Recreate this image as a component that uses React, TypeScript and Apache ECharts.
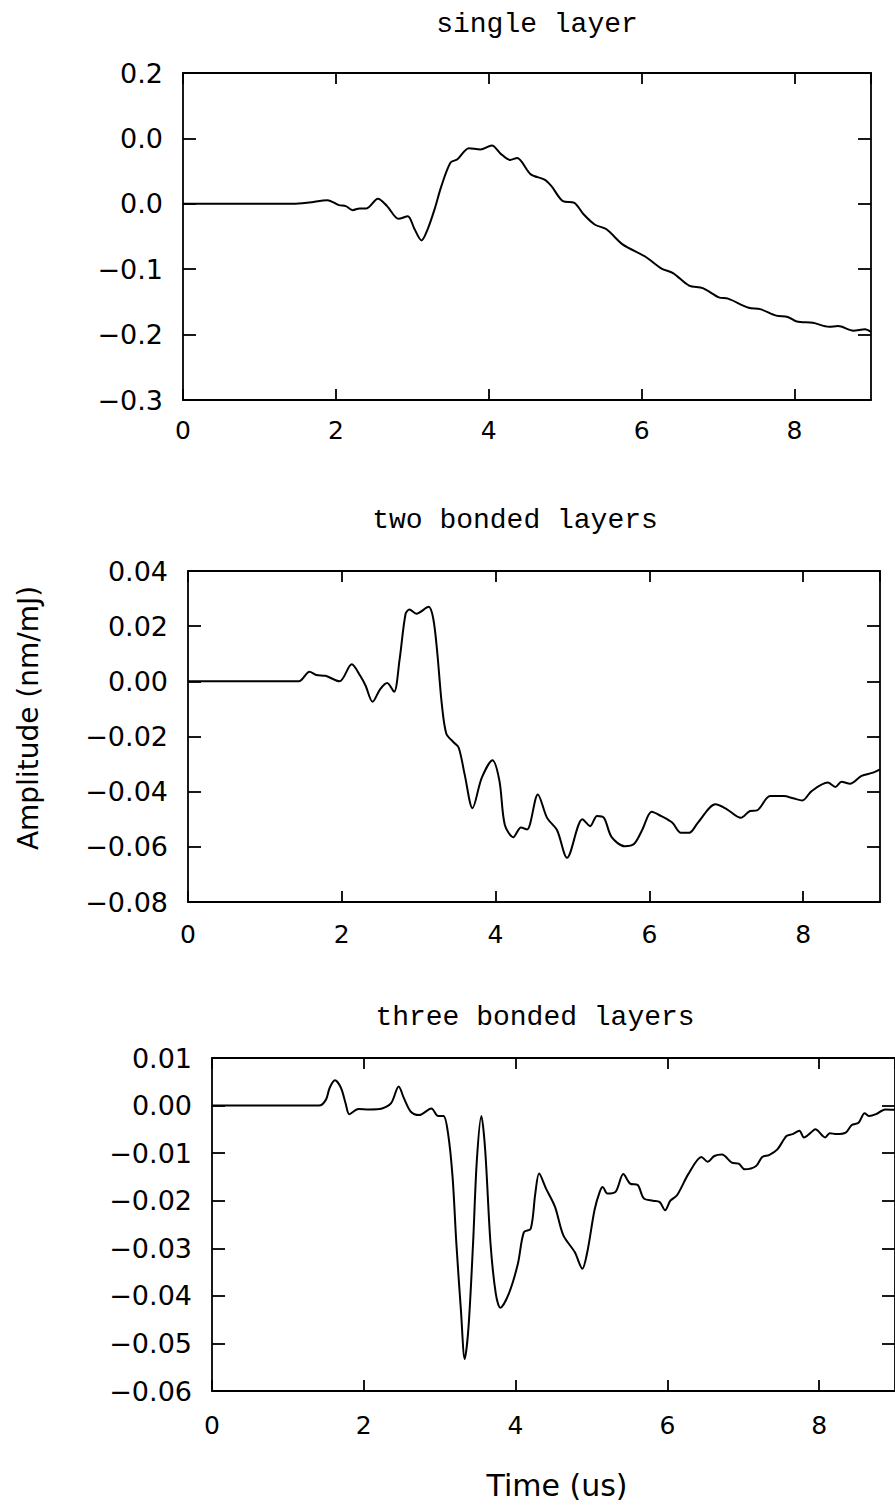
import React, { useEffect, useRef } from "react";
import * as echarts from "echarts";

const titles = ["single layer", "two bonded layers", "three bonded layers"];
const xTicks = [0, 2, 4, 6, 8];
const xLabelText = ["0", "2", "4", "6", "8"];
const xLabelName = "Time (us)";
const yName = "Amplitude (nm/mJ)";

const yTicks1 = [-0.3, -0.2, -0.1, 0, 0.1, 0.2];
const yLabels1 = ["−0.3", "−0.2", "−0.1", "0.0", "0.0", "0.2"];
const yTicks2 = [-0.08, -0.06, -0.04, -0.02, 0, 0.02, 0.04];
const yLabels2 = ["−0.08", "−0.06", "−0.04", "−0.02", "0.00", "0.02", "0.04"];
const yTicks3 = [-0.06, -0.05, -0.04, -0.03, -0.02, -0.01, 0, 0.01];
const yLabels3 = ["−0.06", "−0.05", "−0.04", "−0.03", "−0.02", "−0.01", "0.00", "0.01"];

const t1 = [0, 1.44, 1.65, 1.89, 2.04, 2.13, 2.22, 2.31, 2.4, 2.55, 2.67, 2.82, 2.94, 3.03, 3.12, 3.2, 3.29, 3.38, 3.5, 3.59, 3.74, 3.89, 4.04, 4.16, 4.28, 4.37, 4.55, 4.73, 4.82, 4.97, 5.12, 5.24, 5.39, 5.54, 5.75, 6.05, 6.26, 6.41, 6.62, 6.8, 7.01, 7.13, 7.4, 7.55, 7.76, 7.91, 8.03, 8.24, 8.45, 8.57, 8.77, 8.92, 9.0];
const v1 = [0, 0, 0.002, 0.0056, -0.002, -0.0036, -0.0097, -0.007, -0.007, 0.0077, -0.0036, -0.023, -0.019, -0.039, -0.056, -0.039, -0.0087, 0.027, 0.063, 0.068, 0.085, 0.083, 0.089, 0.076, 0.067, 0.07, 0.045, 0.037, 0.027, 0.004, 0.0015, -0.016, -0.032, -0.039, -0.062, -0.081, -0.099, -0.106, -0.125, -0.129, -0.143, -0.145, -0.159, -0.161, -0.171, -0.173, -0.18, -0.182, -0.188, -0.187, -0.194, -0.192, -0.196];

const t2 = [0, 1.44, 1.58, 1.67, 1.79, 1.97, 2.13, 2.24, 2.31, 2.4, 2.5, 2.59, 2.68, 2.75, 2.83, 2.88, 2.97, 3.13, 3.19, 3.24, 3.3, 3.36, 3.45, 3.52, 3.6, 3.7, 3.82, 3.96, 4.05, 4.12, 4.23, 4.33, 4.41, 4.55, 4.67, 4.8, 4.93, 5.13, 5.23, 5.32, 5.41, 5.51, 5.68, 5.8, 5.91, 6.03, 6.15, 6.3, 6.41, 6.52, 6.63, 6.86, 7.01, 7.19, 7.31, 7.4, 7.57, 7.75, 7.87, 7.99, 8.11, 8.32, 8.42, 8.5, 8.61, 8.76, 8.91, 9.0];
const v2 = [0, 0, 0.0035, 0.0023, 0.002, 0, 0.0062, 0.002, -0.0016, -0.0074, -0.0028, -0.0006, -0.0038, 0.0075, 0.0245, 0.026, 0.0245, 0.027, 0.0227, 0.011, -0.008, -0.019, -0.022, -0.024, -0.034, -0.046, -0.035, -0.0286, -0.036, -0.052, -0.0565, -0.053, -0.0537, -0.041, -0.0495, -0.054, -0.064, -0.05, -0.0525, -0.0488, -0.0495, -0.0565, -0.0598, -0.059, -0.0537, -0.0473, -0.0488, -0.0513, -0.0549, -0.0549, -0.0513, -0.0446, -0.0464, -0.0495, -0.047, -0.0468, -0.0416, -0.0416, -0.0424, -0.0432, -0.0398, -0.0367, -0.0383, -0.0364, -0.0371, -0.0343, -0.0331, -0.0319];

const t3 = [0, 1.41, 1.5, 1.55, 1.62, 1.7, 1.76, 1.81, 1.93, 2.07, 2.24, 2.36, 2.46, 2.53, 2.62, 2.73, 2.89, 2.98, 3.05, 3.11, 3.17, 3.22, 3.28, 3.33, 3.38, 3.44, 3.49, 3.55, 3.6, 3.67, 3.74, 3.8, 3.91, 4.03, 4.11, 4.2, 4.26, 4.31, 4.4, 4.52, 4.63, 4.78, 4.88, 4.95, 5.04, 5.11, 5.15, 5.21, 5.32, 5.42, 5.51, 5.61, 5.69, 5.81, 5.9, 5.97, 6.04, 6.13, 6.28, 6.45, 6.53, 6.62, 6.72, 6.85, 6.94, 7.02, 7.17, 7.25, 7.34, 7.45, 7.57, 7.65, 7.74, 7.8, 7.89, 7.95, 8.08, 8.14, 8.23, 8.35, 8.43, 8.52, 8.6, 8.66, 8.75, 8.87, 9.0];
const v3 = [0, 0, 0.0012, 0.0037, 0.0053, 0.0037, 0.0005, -0.0018, -0.0007, -0.0008, -0.0006, 0.0005, 0.004, 0.0015, -0.0013, -0.002, -0.0006, -0.0022, -0.0022, -0.0058, -0.015, -0.029, -0.043, -0.0533, -0.0466, -0.029, -0.0115, -0.0022, -0.0094, -0.029, -0.0396, -0.0425, -0.0396, -0.0333, -0.0266, -0.0259, -0.0185, -0.0143, -0.0174, -0.0213, -0.0273, -0.0308, -0.0343, -0.0304, -0.022, -0.0181, -0.0171, -0.0185, -0.0181, -0.0144, -0.0164, -0.0167, -0.0195, -0.02, -0.0203, -0.022, -0.02, -0.0188, -0.0143, -0.0108, -0.0118, -0.0106, -0.0103, -0.012, -0.0122, -0.0134, -0.0127, -0.0108, -0.0104, -0.0092, -0.0064, -0.006, -0.0053, -0.0067, -0.0057, -0.005, -0.0067, -0.0058, -0.006, -0.0057, -0.0041, -0.0036, -0.0016, -0.0022, -0.0018, -0.0008, -0.0009];

const zip = (a: number[], b: number[]) => {
  const n = Math.min(a.length, b.length);
  const out: number[][] = [];
  for (let i = 0; i < n; i++) out.push([a[i], b[i]]);
  return out;
};

const lookup = (ticks: number[], labels: string[]) => (val: number) => {
  for (let i = 0; i < ticks.length; i++) {
    if (Math.abs(ticks[i] - val) < 1e-7) return labels[i];
  }
  return "";
};

export default function App() {
  const ref = useRef<HTMLDivElement>(null);
  useEffect(() => {
    if (!ref.current) return;
    const chart = echarts.init(ref.current, undefined, { renderer: "svg" });
    const tickFont = "DejaVu Sans";
    const grids = [
      { left: 183, top: 73, width: 688, height: 327 },
      { left: 188, top: 571, width: 692, height: 331 },
      { left: 212, top: 1058, width: 691, height: 333 },
    ];
    const xMargins = [18, 20, 22];
    const yCfg = [
      { min: -0.3, max: 0.2, interval: 0.1, ticks: yTicks1, labels: yLabels1 },
      { min: -0.08, max: 0.04, interval: 0.02, ticks: yTicks2, labels: yLabels2 },
      { min: -0.06, max: 0.01, interval: 0.01, ticks: yTicks3, labels: yLabels3 },
    ];
    const dataSets = [zip(t1, v1), zip(t2, v2), zip(t3, v3)];
    const lineStyle = { color: "#000", width: 1.8 };
    const xAxes: any[] = [];
    const yAxes: any[] = [];
    const series: any[] = [];
    grids.forEach((g, i) => {
      const xFmt = lookup(xTicks, xLabelText);
      xAxes.push({
        type: "value", gridIndex: i, position: "bottom", min: 0, max: 9, interval: 2,
        axisLine: { show: true, onZero: false, lineStyle },
        axisTick: { show: true, inside: true, length: 11, lineStyle },
        splitLine: { show: false },
        axisLabel: { show: true, margin: xMargins[i], formatter: xFmt, showMaxLabel: false, color: "#000", fontFamily: tickFont, fontSize: 25 },
      });
      xAxes.push({
        type: "value", gridIndex: i, position: "top", min: 0, max: 9, interval: 2,
        axisLine: { show: true, onZero: false, lineStyle },
        axisTick: { show: true, inside: true, length: 11, lineStyle },
        splitLine: { show: false },
        axisLabel: { show: false },
      });
      const c = yCfg[i];
      yAxes.push({
        type: "value", gridIndex: i, position: "left", min: c.min, max: c.max, interval: c.interval,
        axisLine: { show: true, onZero: false, lineStyle },
        axisTick: { show: true, inside: true, length: 13, lineStyle },
        splitLine: { show: false },
        axisLabel: { show: true, margin: 20, formatter: lookup(c.ticks, c.labels), color: "#000", fontFamily: tickFont, fontSize: 27 },
      });
      yAxes.push({
        type: "value", gridIndex: i, position: "right", min: c.min, max: c.max, interval: c.interval,
        axisLine: { show: true, onZero: false, lineStyle },
        axisTick: { show: true, inside: true, length: 13, lineStyle },
        splitLine: { show: false },
        axisLabel: { show: false },
      });
      series.push({
        type: "line", xAxisIndex: 2 * i, yAxisIndex: 2 * i, data: dataSets[i],
        showSymbol: false, smooth: 0.3, lineStyle: { color: "#000", width: 2 },
      });
    });
    const titleFont = { fontFamily: "Liberation Mono", fontSize: 28, fill: "#000" };
    chart.setOption({
      animation: false,
      backgroundColor: "#fff",
      grid: grids,
      xAxis: xAxes,
      yAxis: yAxes,
      series,
      graphic: [
        { type: "text", x: 537, y: 24, style: { ...titleFont, text: titles[0], align: "center", verticalAlign: "middle" } },
        { type: "text", x: 515, y: 520, style: { ...titleFont, text: titles[1], align: "center", verticalAlign: "middle" } },
        { type: "text", x: 535, y: 1017, style: { ...titleFont, text: titles[2], align: "center", verticalAlign: "middle" } },
        { type: "text", x: 557, y: 1485, style: { fontFamily: tickFont, fontSize: 30, fill: "#000", text: xLabelName, align: "center", verticalAlign: "middle" } },
        { type: "text", x: 28, y: 718, rotation: Math.PI / 2, style: { fontFamily: tickFont, fontSize: 28, fill: "#000", text: yName, align: "center", verticalAlign: "middle" } },
      ],
    });
    return () => chart.dispose();
  }, []);
  return <div ref={ref} style={{ position: "absolute", left: 0, top: 0, width: 895, height: 1507 }} />;
}
